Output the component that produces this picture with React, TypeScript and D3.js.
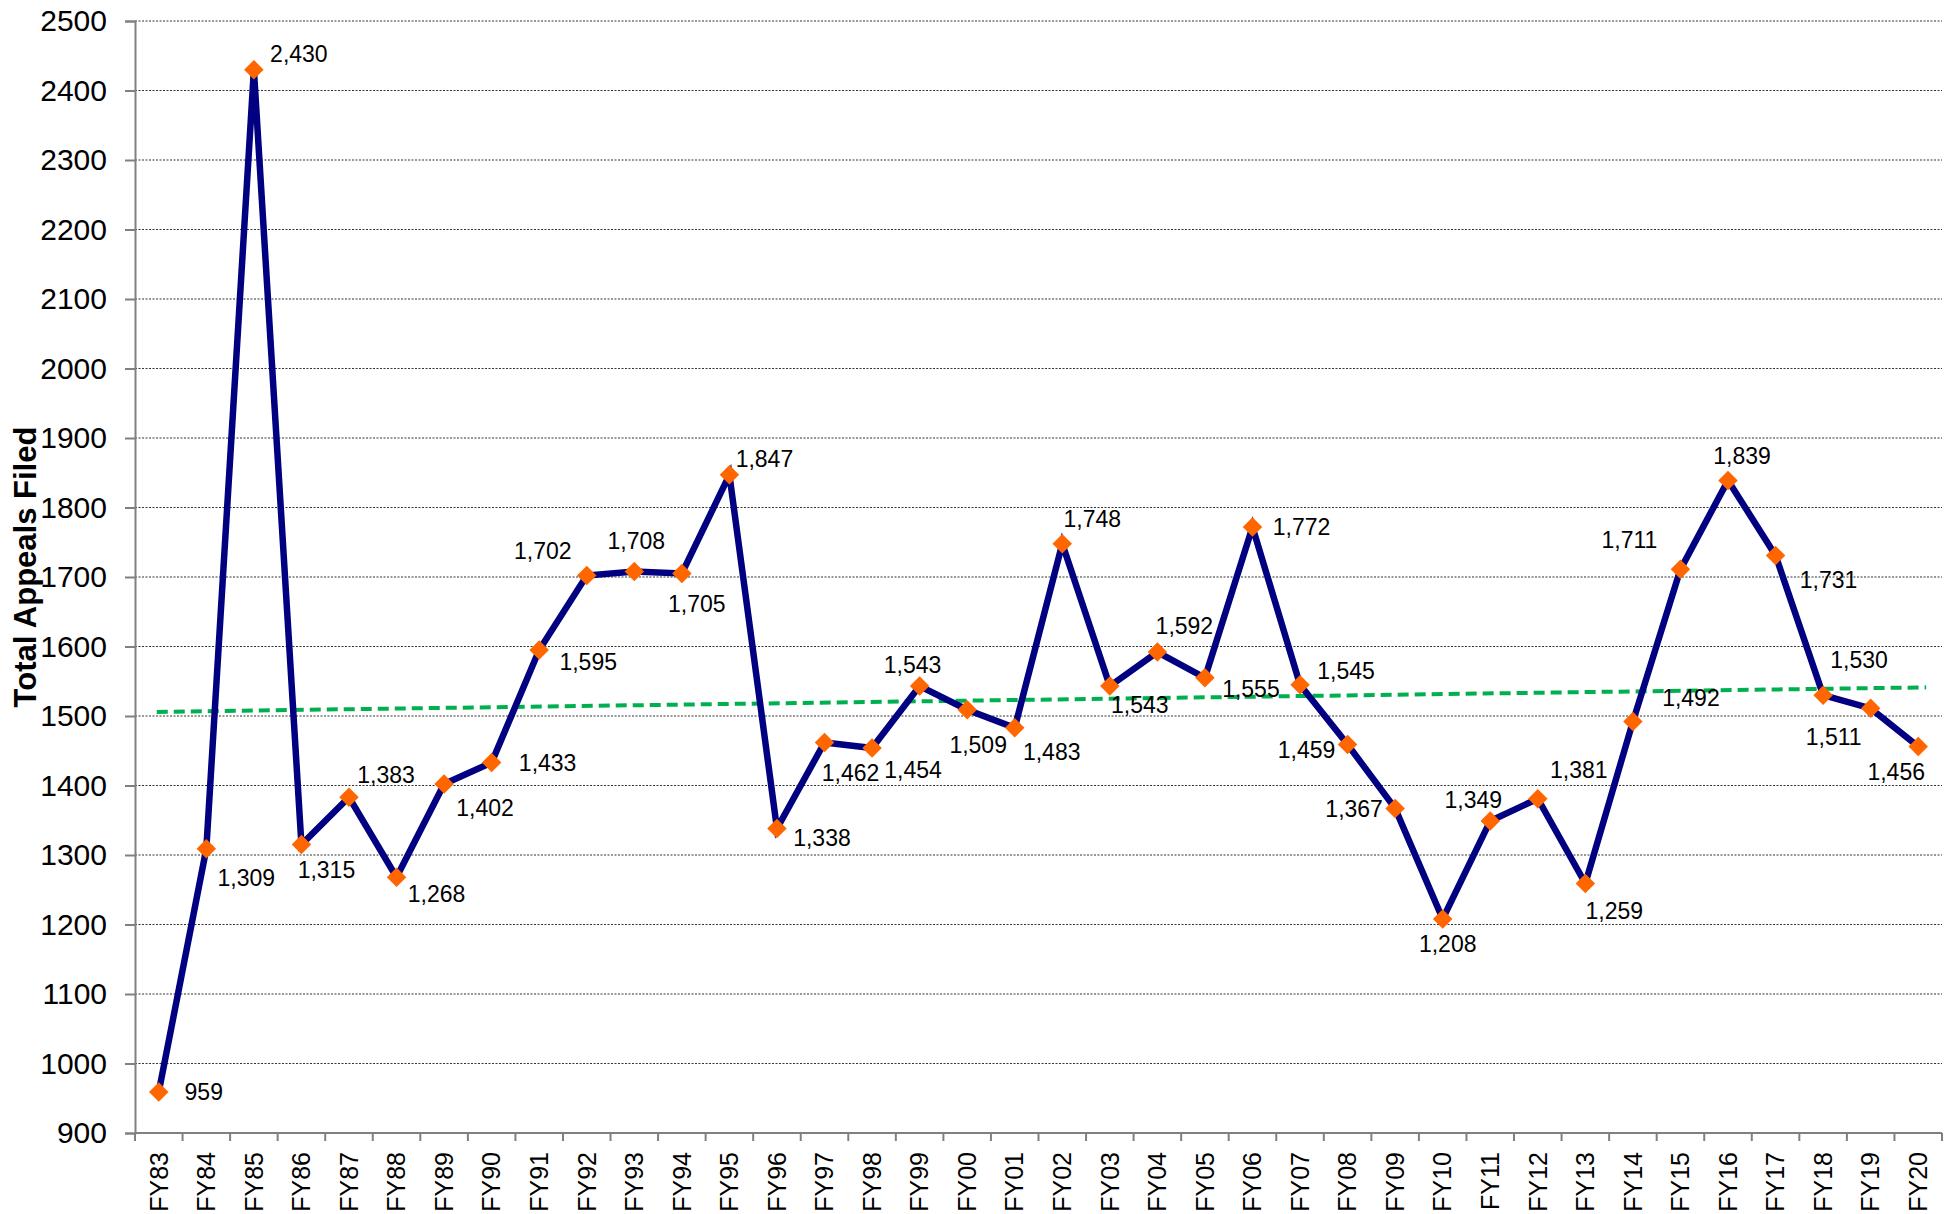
import React, { useEffect, useRef } from "react";
import * as d3 from "d3";

// fiscal years and total appeals filed
const years = [
  "FY83", "FY84", "FY85", "FY86", "FY87", "FY88", "FY89", "FY90", "FY91", "FY92",
  "FY93", "FY94", "FY95", "FY96", "FY97", "FY98", "FY99", "FY00", "FY01", "FY02",
  "FY03", "FY04", "FY05", "FY06", "FY07", "FY08", "FY09", "FY10", "FY11", "FY12",
  "FY13", "FY14", "FY15", "FY16", "FY17", "FY18", "FY19", "FY20",
];
const appeals = [
  959, 1309, 2430, 1315, 1383, 1268, 1402, 1433, 1595, 1702,
  1708, 1705, 1847, 1338, 1462, 1454, 1543, 1509, 1483, 1748,
  1543, 1592, 1555, 1772, 1545, 1459, 1367, 1208, 1349, 1381,
  1259, 1492, 1711, 1839, 1731, 1530, 1511, 1456,
];
const yTicks = [900, 1000, 1100, 1200, 1300, 1400, 1500, 1600, 1700, 1800, 1900, 2000, 2100, 2200, 2300, 2400, 2500];

// where each data label sits relative to its marker (px)
const labelOffsets = [
  [45, 0], [40, 29], [45, -16], [25, 25], [37, -22], [40, 17], [41, 24], [56, 0], [49, 12], [-44, -25],
  [2, -30], [15, 30], [35, -16], [45, 9], [26, 31], [41, 22], [-7, -21], [11, 35], [37, 24], [30, -25],
  [30, 19], [27, -26], [46, 11], [49, 0], [46, -14], [-41, 5], [-41, 1], [5, 25], [-17, -21], [41, -29],
  [29, 27], [58, -24], [-51, -29], [14, -24], [53, 24], [36, -35], [-37, 29], [-22, 25],
];

const FONT = "'Liberation Sans', Arial, sans-serif";

function AppealsChart() {
  const svgRef = useRef(null);
  const width = 1951;
  const height = 1214;
  const margin = { top: 21, right: 9, bottom: 81, left: 135 };

  useEffect(() => {
    const svg = d3.select(svgRef.current);
    svg.selectAll("*").remove();

    const innerW = width - margin.left - margin.right;
    const innerH = height - margin.top - margin.bottom;

    const xScale = d3.scaleBand().domain(years).range([0, innerW]);
    const yScale = d3.scaleLinear().domain([900, 2500]).range([innerH, 0]);
    const cx = (i) => xScale(years[i]) + xScale.bandwidth() / 2;

    const g = svg.append("g").attr("transform", `translate(${margin.left},${margin.top})`);

    // gridlines
    g.selectAll(".grid")
      .data(yTicks.slice(1))
      .join("line")
      .attr("class", "grid")
      .attr("x1", 0)
      .attr("x2", innerW)
      .attr("y1", (d) => yScale(d))
      .attr("y2", (d) => yScale(d))
      .attr("stroke", "#333")
      .attr("stroke-width", 1)
      .attr("stroke-dasharray", "2,1.5");

    // y axis
    const yAxis = d3
      .axisLeft(yScale)
      .tickValues(yTicks)
      .tickFormat(d3.format("d"))
      .tickSize(10)
      .tickPadding(18);
    const ya = g.append("g").call(yAxis);
    ya.select(".domain").attr("stroke", "#808080").attr("stroke-width", 2);
    ya.selectAll(".tick line").attr("stroke", "#808080").attr("stroke-width", 2);
    ya.selectAll(".tick text")
      .attr("font-family", FONT)
      .attr("font-size", 30)
      .attr("fill", "#000");

    // x axis: ticks on band boundaries
    const xa = g.append("g").attr("transform", `translate(0,${innerH})`);
    xa.append("line")
      .attr("x1", 0)
      .attr("x2", innerW)
      .attr("stroke", "#808080")
      .attr("stroke-width", 2);
    xa.selectAll(".xtick")
      .data(d3.range(years.length + 1))
      .join("line")
      .attr("class", "xtick")
      .attr("x1", (i) => i * xScale.step())
      .attr("x2", (i) => i * xScale.step())
      .attr("y1", 0)
      .attr("y2", 8)
      .attr("stroke", "#808080")
      .attr("stroke-width", 2);
    xa.selectAll(".xlabel")
      .data(years)
      .join("text")
      .attr("class", "xlabel")
      .attr("transform", (d, i) => `translate(${cx(i)},19) rotate(-90)`)
      .attr("text-anchor", "end")
      .attr("dy", "0.35em")
      .attr("font-family", FONT)
      .attr("font-size", 25)
      .text((d) => d);

    // linear trend (least squares on the series)
    const n = appeals.length;
    const mx = d3.mean(d3.range(n));
    const my = d3.mean(appeals);
    const slope =
      d3.sum(appeals, (v, i) => (i - mx) * (v - my)) / d3.sum(d3.range(n), (i) => (i - mx) * (i - mx));
    const trend = (i) => my + slope * (i - mx);
    g.append("line")
      .attr("x1", cx(0) - 2)
      .attr("x2", cx(n - 1) + 8)
      .attr("y1", yScale(trend(-0.04)))
      .attr("y2", yScale(trend(n - 1 + 0.17)))
      .attr("stroke", "#00B050")
      .attr("stroke-width", 4)
      .attr("stroke-dasharray", "11,6");

    // series line
    const line = d3
      .line()
      .x((d, i) => cx(i))
      .y((d) => yScale(d));
    g.append("path")
      .datum(appeals)
      .attr("d", line)
      .attr("fill", "none")
      .attr("stroke", "#000080")
      .attr("stroke-width", 6.5)
      .attr("stroke-linejoin", "miter");

    // diamond markers
    const diamond = d3.symbol().type(d3.symbolSquare).size(190);
    g.selectAll(".marker")
      .data(appeals)
      .join("path")
      .attr("class", "marker")
      .attr("d", diamond)
      .attr("transform", (d, i) => `translate(${cx(i)},${yScale(d)}) rotate(45)`)
      .attr("fill", "#FF6600");

    // data labels
    g.selectAll(".dlabel")
      .data(appeals)
      .join("text")
      .attr("class", "dlabel")
      .attr("x", (d, i) => cx(i) + labelOffsets[i][0])
      .attr("y", (d, i) => yScale(d) + labelOffsets[i][1])
      .attr("dy", "0.35em")
      .attr("text-anchor", "middle")
      .attr("font-family", FONT)
      .attr("font-size", 23)
      .attr("fill", "#000")
      .text((d) => d3.format(",")(d));

    // y axis title
    svg
      .append("text")
      .attr("transform", `translate(36,${margin.top + innerH / 2 - 10}) rotate(-90)`)
      .attr("text-anchor", "middle")
      .attr("font-family", FONT)
      .attr("font-weight", "bold")
      .attr("font-size", 31)
      .attr("fill", "#000")
      .text("Total Appeals Filed");
  }, []);

  return <svg ref={svgRef} width={width} height={height} style={{ display: "block" }} />;
}

export default function App() {
  return (
    <React.Fragment>
      <style>{`body{margin:0;background:#fff}`}</style>
      <AppealsChart />
    </React.Fragment>
  );
}
